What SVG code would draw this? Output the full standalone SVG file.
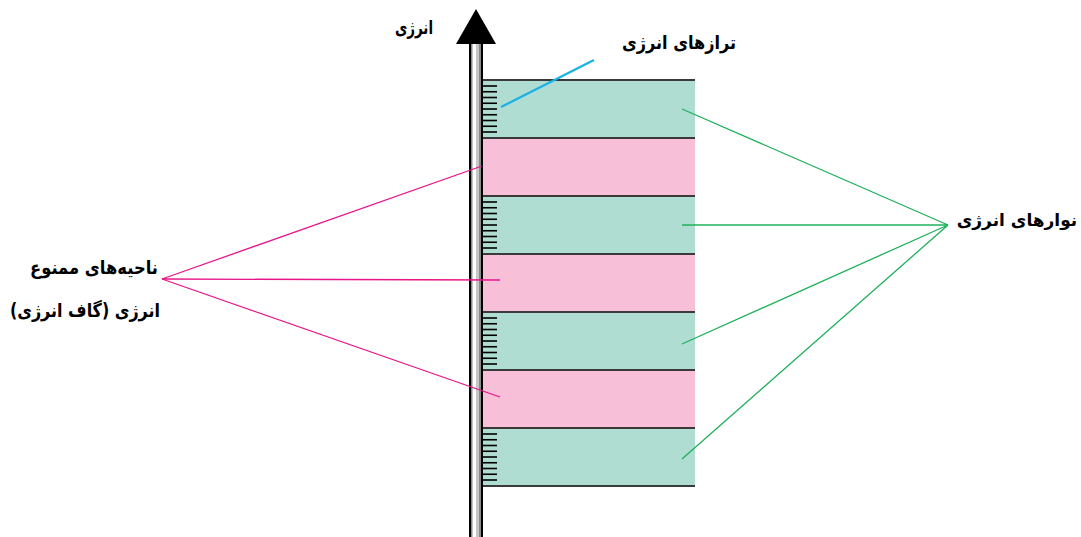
<svg xmlns="http://www.w3.org/2000/svg" width="1081" height="537" viewBox="0 0 1081 537">
<style>
.g{fill:#b0ddd2}
.p{fill:#f7bfd8}
.b{stroke:#3a3a3a;stroke-width:2}
.t{stroke:#000;stroke-width:1.6}
.lbl{font-family:"DejaVu Sans",sans-serif;font-weight:bold;font-size:19px;fill:#000;text-anchor:middle}
.gl{stroke:#1fb15a;stroke-width:1.3;fill:none}
.pl{stroke:#e8168a;stroke-width:1.3;fill:none}
</style>
<defs>
<g id="ticks">
<line class="t" x1="483" x2="497" y1="0" y2="0"/>
<line class="t" x1="483" x2="497" y1="5.75" y2="5.75"/>
<line class="t" x1="483" x2="497" y1="11.5" y2="11.5"/>
<line class="t" x1="483" x2="497" y1="17.25" y2="17.25"/>
<line class="t" x1="483" x2="497" y1="23" y2="23"/>
<line class="t" x1="483" x2="497" y1="28.75" y2="28.75"/>
<line class="t" x1="483" x2="497" y1="34.5" y2="34.5"/>
<line class="t" x1="483" x2="497" y1="40.25" y2="40.25"/>
<line class="t" x1="483" x2="497" y1="46" y2="46"/>
</g>
</defs>
<g id="bands">
<rect class="g" x="483" y="80" width="212" height="58"/>
<rect class="p" x="483" y="138" width="212" height="58"/>
<rect class="g" x="483" y="196" width="212" height="58"/>
<rect class="p" x="483" y="254" width="212" height="58"/>
<rect class="g" x="483" y="312" width="212" height="58"/>
<rect class="p" x="483" y="370" width="212" height="58"/>
<rect class="g" x="483" y="428" width="212" height="58"/>
<line class="b" x1="483" x2="695" y1="80" y2="80"/>
<line class="b" x1="483" x2="695" y1="138" y2="138"/>
<line class="b" x1="483" x2="695" y1="196" y2="196"/>
<line class="b" x1="483" x2="695" y1="254" y2="254"/>
<line class="b" x1="483" x2="695" y1="312" y2="312"/>
<line class="b" x1="483" x2="695" y1="370" y2="370"/>
<line class="b" x1="483" x2="695" y1="428" y2="428"/>
<line class="b" x1="483" x2="695" y1="486" y2="486"/>
<use href="#ticks" transform="translate(0,86)"/>
<use href="#ticks" transform="translate(0,202)"/>
<use href="#ticks" transform="translate(0,318)"/>
<use href="#ticks" transform="translate(0,434)"/>
</g>
<g id="axis">
<rect x="469" y="40" width="14" height="497" fill="#000"/>
<rect x="471" y="40" width="10" height="497" fill="#8a8a8a"/>
<rect x="472.5" y="40" width="4" height="497" fill="#ffffff"/>
<rect x="476.5" y="40" width="2.5" height="497" fill="#c8c8c8"/>
<polygon points="476,9 456,44 496,44" fill="#000"/>
</g>
<g id="connectors">
<line x1="501" y1="107" x2="594" y2="60" stroke="#1ab0e8" stroke-width="2.2"/>
<polyline class="gl" points="682,109 948,225 682,225"/>
<polyline class="gl" points="682,344 948,225 682,459"/>
<polyline class="pl" points="482,166 162,279 500,280"/>
<line class="pl" x1="162" y1="279" x2="500" y2="397"/>
</g>
<g id="label-energy"><text class="lbl" x="414" y="34" textLength="38" lengthAdjust="spacingAndGlyphs">انرژی</text></g>
<g id="label-levels"><text class="lbl" x="679" y="49" textLength="114" lengthAdjust="spacingAndGlyphs">ترازهای انرژی</text></g>
<g id="label-bands"><text class="lbl" x="1017" y="226" style="font-size:17px">نوارهای انرژی</text></g>
<g id="label-gaps">
<text class="lbl" x="94" y="274" textLength="128" lengthAdjust="spacingAndGlyphs">ناحیه‌های ممنوع</text>
<text class="lbl" x="85" y="317" textLength="150" lengthAdjust="spacingAndGlyphs">انرژی (گاف انرژی)</text>
</g>
</svg>
